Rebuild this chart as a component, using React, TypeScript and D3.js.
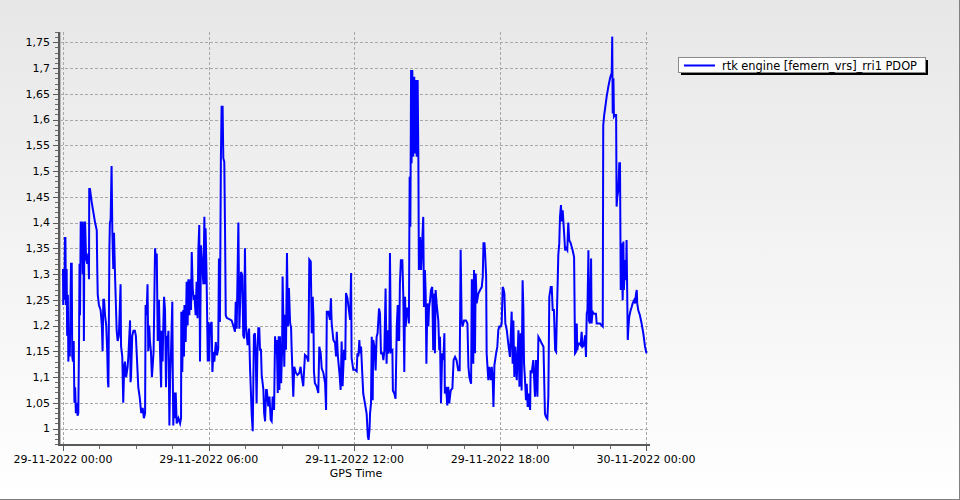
import React from 'react';
import * as d3 from 'd3';

// PDOP samples, [hours after 29-11-2022 00:00, PDOP]
const night: [number, number][] = [
  [0.0, 1.31], [0.01, 1.24], [0.03, 1.3], [0.05, 1.25], [0.07, 1.31], [0.08, 1.37], [0.1, 1.37], [0.12, 1.24],
  [0.15, 1.31], [0.17, 1.18], [0.2, 1.26], [0.22, 1.13], [0.25, 1.17], [0.28, 1.14], [0.33, 1.32], [0.36, 1.32],
  [0.38, 1.14], [0.41, 1.13], [0.44, 1.17], [0.47, 1.05], [0.5, 1.08], [0.53, 1.03], [0.57, 1.05], [0.6, 1.025],
  [0.63, 1.03], [0.66, 1.17], [0.68, 1.32], [0.7, 1.22], [0.73, 1.4], [0.78, 1.4], [0.81, 1.3], [0.84, 1.4],
  [0.86, 1.17], [0.88, 1.4], [0.91, 1.4], [0.95, 1.33], [1.0, 1.32], [1.04, 1.34], [1.07, 1.29], [1.08, 1.465],
  [1.11, 1.465], [1.18, 1.44], [1.25, 1.42], [1.32, 1.4], [1.39, 1.385], [1.41, 1.31], [1.43, 1.26], [1.48, 1.24],
  [1.55, 1.23], [1.6, 1.2], [1.63, 1.15], [1.66, 1.25], [1.69, 1.25], [1.73, 1.22], [1.78, 1.2], [1.82, 1.15],
  [1.85, 1.09], [1.87, 1.08], [1.91, 1.35], [1.93, 1.4], [1.96, 1.405], [2.0, 1.51], [2.03, 1.385], [2.07, 1.31],
  [2.1, 1.38], [2.14, 1.3], [2.21, 1.19], [2.25, 1.17], [2.3, 1.18], [2.37, 1.28], [2.39, 1.16], [2.44, 1.14],
  [2.48, 1.05], [2.52, 1.12], [2.55, 1.13], [2.6, 1.1], [2.66, 1.12], [2.69, 1.14], [2.76, 1.21], [2.78, 1.09],
  [2.8, 1.1], [2.85, 1.18], [2.9, 1.19], [2.96, 1.19], [3.0, 1.18], [3.04, 1.14], [3.1, 1.08], [3.16, 1.06],
  [3.22, 1.03], [3.28, 1.04], [3.33, 1.02], [3.38, 1.03], [3.4, 1.24], [3.44, 1.22], [3.48, 1.28], [3.51, 1.15],
  [3.55, 1.2], [3.58, 1.17], [3.62, 1.15], [3.66, 1.1], [3.69, 1.12], [3.73, 1.15], [3.79, 1.35], [3.82, 1.33],
  [3.86, 1.34], [3.9, 1.17], [3.95, 1.25],
];

const earlyMorning: [number, number][] = [
  [4.0, 1.14], [4.04, 1.08], [4.06, 1.19], [4.1, 1.13], [4.13, 1.2], [4.16, 1.256], [4.2, 1.23], [4.24, 1.08],
  [4.27, 1.18], [4.3, 1.16], [4.34, 1.19], [4.38, 1.006], [4.41, 1.1], [4.45, 1.155], [4.5, 1.246], [4.52, 1.1],
  [4.54, 1.006], [4.58, 1.07], [4.62, 1.02], [4.64, 1.07], [4.68, 1.01], [4.75, 1.02], [4.82, 1.01], [4.86, 1.02],
  [4.87, 1.227], [4.91, 1.11], [4.95, 1.23], [4.98, 1.14], [5.0, 1.24], [5.05, 1.168], [5.09, 1.285], [5.13, 1.2],
  [5.16, 1.29], [5.2, 1.22], [5.25, 1.29], [5.27, 1.23], [5.3, 1.343], [5.34, 1.272], [5.38, 1.25], [5.41, 1.259],
  [5.46, 1.22], [5.5, 1.285], [5.54, 1.214], [5.57, 1.343], [5.61, 1.395], [5.64, 1.13], [5.68, 1.356], [5.74, 1.31],
  [5.78, 1.28], [5.82, 1.411], [5.85, 1.28], [5.87, 1.389], [5.91, 1.298], [5.96, 1.13], [5.98, 1.207], [6.02, 1.13],
  [6.05, 1.2], [6.12, 1.207], [6.15, 1.11], [6.19, 1.149], [6.23, 1.13], [6.29, 1.168], [6.34, 1.142], [6.39, 1.155],
  [6.42, 1.33], [6.46, 1.207], [6.5, 1.525], [6.53, 1.625], [6.57, 1.625], [6.6, 1.525], [6.64, 1.518], [6.67, 1.389],
  [6.7, 1.22], [6.74, 1.215], [6.94, 1.21], [7.01, 1.2], [7.08, 1.188], [7.11, 1.246], [7.15, 1.194], [7.22, 1.4],
  [7.26, 1.194], [7.33, 1.304], [7.38, 1.298], [7.42, 1.181], [7.46, 1.175], [7.49, 1.35], [7.53, 1.2], [7.6, 1.162],
  [7.66, 1.194], [7.7, 1.117], [7.77, 1.026], [7.81, 0.995], [7.86, 1.181],
];

const morning: [number, number][] = [
  [7.9, 1.185], [7.93, 1.153], [7.97, 1.049], [8.0, 1.14], [8.04, 1.195], [8.08, 1.195], [8.11, 1.153], [8.15, 1.153],
  [8.18, 1.104], [8.25, 1.075], [8.28, 1.03], [8.32, 1.014], [8.36, 1.075], [8.39, 1.075], [8.45, 1.043], [8.5, 1.062],
  [8.55, 1.017], [8.59, 1.014], [8.63, 1.062], [8.69, 1.036], [8.73, 1.179], [8.77, 1.146], [8.8, 1.172], [8.84, 1.069],
  [8.88, 1.179], [8.91, 1.075], [8.93, 1.179], [8.98, 1.088], [9.02, 1.153], [9.04, 1.295], [9.07, 1.218], [9.11, 1.12],
  [9.14, 1.221], [9.18, 1.153], [9.22, 1.341], [9.26, 1.198], [9.3, 1.273], [9.35, 1.205], [9.39, 1.195], [9.41, 1.159],
  [9.48, 1.062], [9.52, 1.12], [9.59, 1.108], [9.65, 1.104], [9.73, 1.108], [9.78, 1.12], [9.83, 1.101], [9.89, 1.082],
  [9.96, 1.143], [10.03, 1.14], [10.1, 1.13], [10.14, 1.328], [10.2, 1.324], [10.24, 1.185], [10.28, 1.256], [10.31, 1.218],
  [10.33, 1.111], [10.37, 1.088], [10.44, 1.082], [10.51, 1.069], [10.55, 1.159], [10.61, 1.146], [10.65, 1.117], [10.72, 1.108],
  [10.79, 1.088], [10.83, 1.036], [10.86, 1.227], [10.92, 1.227], [10.99, 1.211], [11.03, 1.253], [11.06, 1.205], [11.13, 1.172],
  [11.2, 1.166], [11.24, 1.14], [11.27, 1.188], [11.31, 1.146], [11.33, 1.133], [11.38, 1.108], [11.43, 1.075], [11.47, 1.169],
  [11.51, 1.082], [11.57, 1.153], [11.62, 1.133], [11.65, 1.263], [11.71, 1.253], [11.75, 1.237], [11.82, 1.211], [11.86, 1.302],
  [11.88, 1.137], [11.95, 1.114], [12.02, 1.114], [12.09, 1.111], [12.12, 1.146], [12.16, 1.14], [12.2, 1.172],
];

const afternoon: [number, number][] = [
  [12.23, 1.146], [12.27, 1.159], [12.32, 1.107], [12.36, 1.068], [12.43, 1.049], [12.5, 1.029], [12.55, 0.985], [12.58, 0.978],
  [12.62, 1.0], [12.64, 1.029], [12.68, 1.049], [12.71, 1.178], [12.75, 1.055], [12.77, 1.172], [12.82, 1.159], [12.87, 1.113],
  [12.91, 1.178], [12.95, 1.185], [13.01, 1.233], [13.05, 1.223], [13.09, 1.146], [13.15, 1.146], [13.19, 1.133], [13.23, 1.152],
  [13.28, 1.272], [13.32, 1.126], [13.36, 1.191], [13.39, 1.146], [13.43, 1.152], [13.46, 1.341], [13.5, 1.149], [13.56, 1.152],
  [13.58, 1.074], [13.64, 1.068], [13.69, 1.058], [13.74, 1.198], [13.78, 1.24], [13.8, 1.172], [13.84, 1.172], [13.87, 1.282],
  [13.91, 1.327], [13.97, 1.327], [14.01, 1.256], [14.05, 1.11], [14.08, 1.256], [14.11, 1.198], [14.15, 1.233], [14.19, 1.233],
  [14.24, 1.204], [14.27, 1.489], [14.3, 1.392], [14.33, 1.696], [14.35, 1.515], [14.38, 1.696], [14.42, 1.528], [14.46, 1.683],
  [14.49, 1.534], [14.53, 1.677], [14.56, 1.528], [14.6, 1.677], [14.63, 1.521], [14.65, 1.308], [14.7, 1.372], [14.74, 1.308],
  [14.79, 1.366], [14.83, 1.411], [14.86, 1.236], [14.9, 1.308], [14.93, 1.262], [14.96, 1.126], [15.0, 1.243], [15.04, 1.198],
  [15.07, 1.236], [15.11, 1.249], [15.15, 1.269], [15.2, 1.275], [15.24, 1.152], [15.29, 1.262], [15.31, 1.146], [15.34, 1.269],
  [15.38, 1.243], [15.45, 1.21], [15.49, 1.152], [15.52, 1.178], [15.56, 1.049], [15.61, 1.146], [15.66, 1.133], [15.7, 1.185],
  [15.72, 1.068], [15.77, 1.081], [15.82, 1.045], [15.86, 1.081], [15.9, 1.049], [15.96, 1.074], [16.03, 1.078], [16.08, 1.133],
  [16.14, 1.139], [16.2, 1.133], [16.27, 1.113], [16.33, 1.113], [16.37, 1.347], [16.41, 1.21], [16.45, 1.198], [16.51, 1.21],
];

const evening: [number, number][] = [
  [16.59, 1.21], [16.65, 1.204], [16.69, 1.12], [16.73, 1.1], [16.76, 1.094], [16.8, 1.087], [16.83, 1.288], [16.87, 1.288],
  [16.89, 1.126], [16.92, 1.308], [16.96, 1.146], [16.99, 1.301], [17.03, 1.243], [17.1, 1.262], [17.17, 1.269], [17.24, 1.275],
  [17.28, 1.295], [17.31, 1.36], [17.35, 1.36], [17.37, 1.347], [17.42, 1.295], [17.44, 1.146], [17.51, 1.094], [17.55, 1.12],
  [17.61, 1.094], [17.65, 1.12], [17.69, 1.094], [17.72, 1.042], [17.76, 1.123], [17.83, 1.146], [17.88, 1.159], [17.92, 1.191],
  [17.96, 1.198], [18.02, 1.198], [18.06, 1.204], [18.1, 1.275], [18.13, 1.272], [18.17, 1.262], [18.21, 1.204], [18.27, 1.191],
  [18.33, 1.165], [18.4, 1.139], [18.47, 1.227], [18.51, 1.126], [18.54, 1.21], [18.58, 1.1], [18.62, 1.159], [18.68, 1.094],
  [18.75, 1.191], [18.79, 1.081], [18.84, 1.185], [18.88, 1.074], [18.92, 1.288], [18.95, 1.236], [18.98, 1.126], [19.02, 1.094],
  [19.06, 1.055], [19.09, 1.087], [19.13, 1.042], [19.16, 1.068], [19.23, 1.036], [19.25, 1.113], [19.29, 1.107], [19.36, 1.133],
  [19.43, 1.062], [19.47, 1.133], [19.53, 1.062], [19.57, 1.178], [19.64, 1.172], [19.71, 1.165], [19.78, 1.159], [19.84, 1.029],
  [19.88, 1.023], [19.94, 1.019], [19.98, 1.062], [20.02, 1.256], [20.08, 1.275], [20.12, 1.275], [20.16, 1.23], [20.21, 1.23],
  [20.26, 1.152], [20.3, 1.149], [20.32, 1.198], [20.37, 1.295], [20.39, 1.337], [20.43, 1.36], [20.46, 1.411], [20.5, 1.434],
  [20.53, 1.402], [20.57, 1.424], [20.63, 1.379], [20.67, 1.346], [20.71, 1.35], [20.76, 1.346], [20.8, 1.4],
];

const lateNight: [number, number][] = [
  [20.84, 1.366], [20.9, 1.36], [20.94, 1.353], [20.98, 1.346], [21.04, 1.333], [21.08, 1.146], [21.12, 1.149], [21.15, 1.204],
  [21.17, 1.152], [21.21, 1.165], [21.26, 1.165], [21.31, 1.162], [21.35, 1.188], [21.39, 1.159], [21.45, 1.162], [21.49, 1.181],
  [21.53, 1.139], [21.56, 1.223], [21.59, 1.23], [21.63, 1.346], [21.65, 1.21], [21.69, 1.204], [21.74, 1.33], [21.76, 1.204],
  [21.8, 1.227], [21.86, 1.223], [21.94, 1.223], [21.97, 1.204], [22.04, 1.204], [22.11, 1.204], [22.18, 1.2], [22.22, 1.198],
  [22.24, 1.589], [22.28, 1.609], [22.31, 1.619], [22.38, 1.644], [22.45, 1.664], [22.52, 1.68], [22.56, 1.687], [22.59, 1.69],
  [22.61, 1.761], [22.63, 1.612], [22.66, 1.68], [22.68, 1.606], [22.72, 1.609], [22.77, 1.609], [22.79, 1.431], [22.82, 1.45],
  [22.86, 1.463], [22.9, 1.515], [22.93, 1.515], [22.96, 1.269], [23.0, 1.36], [23.04, 1.249], [23.07, 1.363], [23.09, 1.269],
  [23.14, 1.327], [23.18, 1.288], [23.2, 1.366], [23.25, 1.172], [23.27, 1.191], [23.31, 1.217], [23.37, 1.23], [23.41, 1.236],
  [23.45, 1.243], [23.51, 1.249], [23.55, 1.243], [23.59, 1.262], [23.62, 1.269], [23.64, 1.243], [23.68, 1.23], [23.75, 1.22],
  [23.82, 1.204], [23.89, 1.185], [23.96, 1.159], [24.02, 1.146],
];

const seriesName = 'rtk engine [femern_vrs]_rri1 PDOP';
const xTitle = 'GPS Time';
const xMajorHours = [0, 6, 12, 18, 24];
const xMinorHours = [1.5, 3, 4.5, 7.5, 9, 10.5, 13.5, 15, 16.5, 19.5, 21, 22.5];
const yMajor = [1, 1.05, 1.1, 1.15, 1.2, 1.25, 1.3, 1.35, 1.4, 1.45, 1.5, 1.55, 1.6, 1.65, 1.7, 1.75];

const START = Date.UTC(2022, 10, 29, 0, 0);
const HOUR = 3600e3;
const at = (h: number) => new Date(START + h * HOUR);

export default function App() {
  const W = 960;
  const H = 500;
  const left = 60;
  const right = 650;
  const top = 32;
  const bottom = 444;

  const x = d3
    .scaleTime()
    .domain([at(-0.1235), at(24.165)])
    .range([left, right]);
  const y = d3.scaleLinear().domain([0.97, 1.77]).range([bottom, top]);

  const fmtTime = d3.utcFormat('%d-%m-%Y %H:%M');
  const fmtY = d3
    .formatLocale({ decimal: ',', thousands: '.', grouping: [3], currency: ['', ''] })
    .format('.3~g');

  const yMinor = d3.range(97, 178).map((i) => i / 100);

  const samples = [...night, ...earlyMorning, ...morning, ...afternoon, ...evening, ...lateNight];
  const line = d3
    .line<[number, number]>()
    .x((d) => x(at(d[0])))
    .y((d) => y(d[1]));

  const font = 'DejaVu Sans, Verdana, sans-serif';
  const grid = '#a8a8a8';

  return (
    <svg
      width={W}
      height={H}
      style={{ position: 'absolute', left: 0, top: 0, display: 'block' }}
      fontFamily={font}
    >
      <defs>
        <linearGradient id="bg" x1="0" y1="0" x2="0" y2="1">
          <stop offset="0" stopColor="#e7e7e7" />
          <stop offset="1" stopColor="#ffffff" />
        </linearGradient>
      </defs>
      <rect x={0} y={0} width={W} height={H} fill="url(#bg)" />
      <line x1={W - 0.5} y1={0} x2={W - 0.5} y2={H} stroke="#808080" />
      <line x1={0} y1={H - 0.5} x2={W} y2={H - 0.5} stroke="#808080" />

      {/* grid */}
      {yMajor.map((v) => (
        <line
          key={'gy' + v}
          x1={left}
          x2={right}
          y1={Math.round(y(v)) + 0.5}
          y2={Math.round(y(v)) + 0.5}
          stroke={grid}
          strokeDasharray="3,2"
        />
      ))}
      {xMajorHours.map((h) => (
        <line
          key={'gx' + h}
          x1={Math.round(x(at(h))) + 0.5}
          x2={Math.round(x(at(h))) + 0.5}
          y1={top}
          y2={bottom}
          stroke={grid}
          strokeDasharray="3,2"
        />
      ))}

      {/* series */}
      <path d={line(samples) || ''} fill="none" stroke="#0000ff" strokeWidth={2} />

      {/* y axis */}
      <rect x={58} y={top} width={2} height={bottom - top + 2} fill="#5a5a5a" />
      <line x1={60.5} x2={60.5} y1={top} y2={bottom} stroke="#b8b8b8" />
      {yMinor.map((v) => (
        <line
          key={'ym' + v}
          x1={55}
          x2={58}
          y1={Math.round(y(v)) + 0.5}
          y2={Math.round(y(v)) + 0.5}
          stroke="#6a6a6a"
        />
      ))}
      {yMajor.map((v) => (
        <g key={'yt' + v}>
          <line x1={53} x2={58} y1={Math.round(y(v)) + 0.5} y2={Math.round(y(v)) + 0.5} stroke="#5a5a5a" />
          <text x={50} y={y(v)} dy="0.35em" textAnchor="end" fontSize={11} fill="#000">
            {fmtY(v)}
          </text>
        </g>
      ))}

      {/* x axis */}
      <rect x={58} y={bottom} width={right - 58} height={2} fill="#5a5a5a" />
      {xMinorHours.map((h) => (
        <line
          key={'xm' + h}
          x1={Math.round(x(at(h))) + 0.5}
          x2={Math.round(x(at(h))) + 0.5}
          y1={bottom + 2}
          y2={bottom + 5}
          stroke="#6a6a6a"
        />
      ))}
      {xMajorHours.map((h) => (
        <g key={'xt' + h}>
          <line
            x1={Math.round(x(at(h))) + 0.5}
            x2={Math.round(x(at(h))) + 0.5}
            y1={bottom + 2}
            y2={bottom + 7}
            stroke="#5a5a5a"
          />
          <text x={x(at(h))} y={463} textAnchor="middle" fontSize={11} fill="#000">
            {fmtTime(at(h))}
          </text>
        </g>
      ))}
      <text x={(left + right) / 2 + 1} y={477} textAnchor="middle" fontSize={11} fill="#000">
        {xTitle}
      </text>

      {/* legend */}
      <rect x={681} y={60} width={247} height={15} fill="#000" />
      <rect x={678.5} y={57.5} width={247} height={15} fill="#fff" stroke="#8a8a8a" />
      <line x1={684} x2={715} y1={65.5} y2={65.5} stroke="#0000ff" strokeWidth={2} />
      <text x={722} y={69.5} fontSize={11.4} fill="#000">
        {seriesName}
      </text>
    </svg>
  );
}
